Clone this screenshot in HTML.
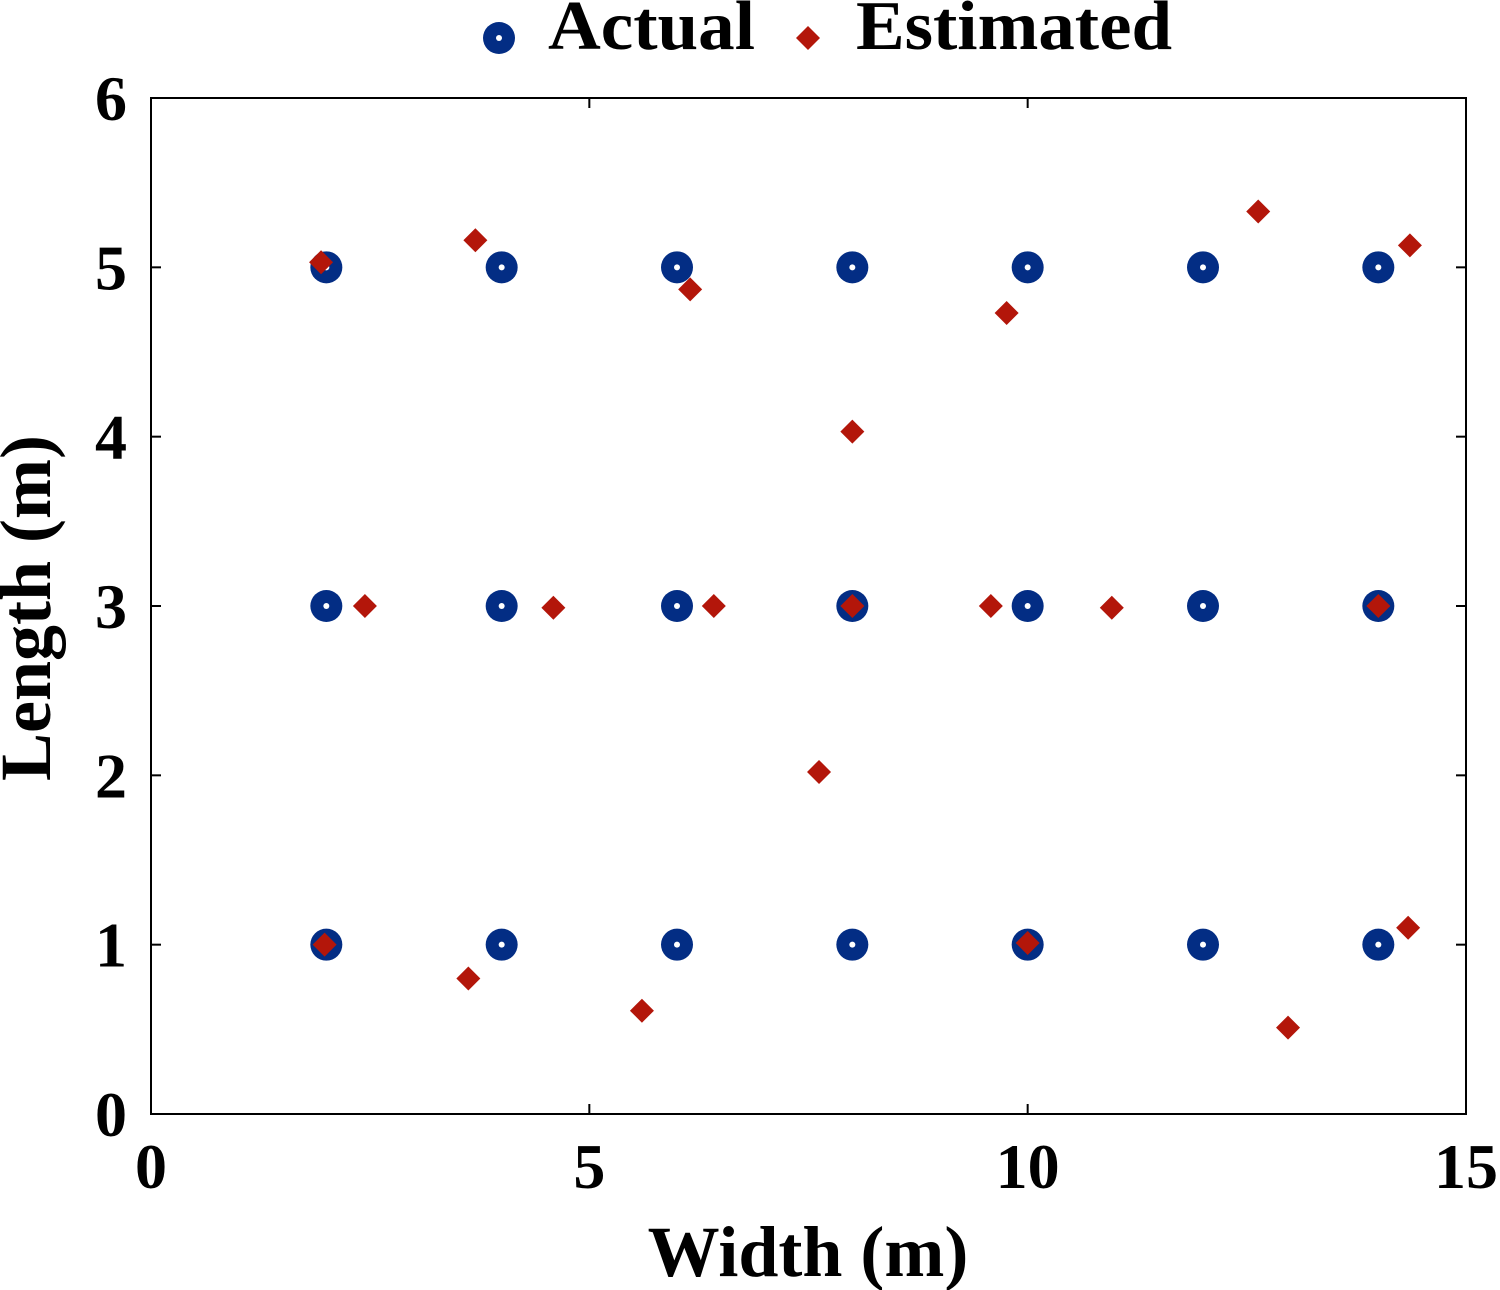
<!DOCTYPE html>
<html><head><meta charset="utf-8"><style>
html,body{margin:0;padding:0;background:#fff;}
svg{display:block;font-family:"Liberation Serif",serif;font-weight:bold;}
</style></head><body>
<svg id="chart" width="1500" height="1290" viewBox="0 0 1500 1290"></svg>
<script>
const xTicks=[0,5,10,15];
const yTicks=[0,1,2,3,4,5,6];
const actualX=[2,4,6,8,10,12,14,2,4,6,8,10,12,14,2,4,6,8,10,12,14];
const actualY=[5,5,5,5,5,5,5,3,3,3,3,3,3,3,1,1,1,1,1,1,1];
const estX=[1.94,3.70,6.15,9.76,8.0,12.63,14.36,2.44,4.59,6.42,8.0,9.58,10.96,14.0,7.62,1.98,3.62,5.6,10.0,14.34,12.97];
const estY=[5.03,5.16,4.87,4.73,4.03,5.33,5.13,3.0,2.99,3.0,3.0,3.0,2.99,3.0,2.02,1.0,0.80,0.61,1.01,1.10,0.51];

const NS="http://www.w3.org/2000/svg";
const svg=document.getElementById('chart');
const L=151,R=1466,T=98,B=1114;
const xs=v=>L+(v-0)/(15-0)*(R-L);
const ys=v=>B-(v-0)/(6-0)*(B-T);
function mk(tag,attrs,parent){const e=document.createElementNS(NS,tag);for(const k in attrs)e.setAttribute(k,attrs[k]);(parent||svg).appendChild(e);return e;}

const frame=mk('rect',{x:L,y:T,width:R-L,height:B-T,fill:'none',stroke:'#000','stroke-width':2});



const xg=mk('g',{});


xTicks.forEach(v=>{
  const x=xs(v);
  mk('line',{x1:x,y1:B,x2:x,y2:B-10,stroke:'#000','stroke-width':2},xg);
  mk('line',{x1:x,y1:T,x2:x,y2:T+10,stroke:'#000','stroke-width':2},xg);
  const t=mk('text',{x:x,y:1188,'text-anchor':'middle','font-size':64},xg);
  t.textContent=v;
  
  
});
const yg=mk('g',{});


yTicks.forEach(v=>{
  const y=ys(v);
  mk('line',{x1:L,y1:y,x2:L+10,y2:y,stroke:'#000','stroke-width':2},yg);
  mk('line',{x1:R,y1:y,x2:R-10,y2:y,stroke:'#000','stroke-width':2},yg);
  const t=mk('text',{x:127,y:y+22,'text-anchor':'end','font-size':64},yg);
  t.textContent=v;
  
  
});
const xt=mk('text',{x:808,y:1276,'text-anchor':'middle','font-size':72});
xt.textContent='Width (m)';


const yt=mk('text',{x:0,y:0,'text-anchor':'middle','font-size':72,transform:'translate(50,608) rotate(-90)'});
yt.textContent='Length (m)';



function circle(cx,cy,g){
  mk('circle',{cx:cx,cy:cy,r:16,fill:'#032d84'},g);
  mk('circle',{cx:cx,cy:cy,r:3,fill:'#fff'},g);
}
function diamond(cx,cy,g){
  const s=12;
  mk('polygon',{points:`${cx},${cy-s} ${cx+s},${cy} ${cx},${cy+s} ${cx-s},${cy}`,fill:'#b3160a'},g);
}
const ag=mk('g',{});


actualX.forEach((v,i)=>{
  const g=mk('g',{},ag);
  
  
  circle(xs(v),ys(actualY[i]),g);
});
const eg=mk('g',{});


estX.forEach((v,i)=>{
  const g=mk('g',{},eg);
  
  
  diamond(xs(v),ys(estY[i]),g);
});

const lg=mk('g',{});


const l1=mk('g',{},lg);


circle(499,38,l1);
const lt1=mk('text',{x:548,y:49,'font-size':70,textLength:207,lengthAdjust:'spacingAndGlyphs'},l1);
lt1.textContent='Actual';
const l2=mk('g',{},lg);


diamond(808,38,l2);
const lt2=mk('text',{x:856,y:49,'font-size':70,textLength:316,lengthAdjust:'spacingAndGlyphs'},l2);
lt2.textContent='Estimated';
</script>
</body></html>
